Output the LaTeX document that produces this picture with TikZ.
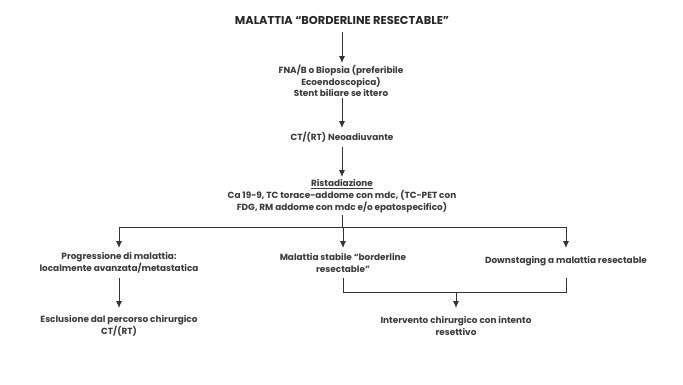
\documentclass[tikz,border=0pt]{standalone}
\usepackage{fontspec}
\setmainfont{Poppins}
\usetikzlibrary{arrows.meta}
\definecolor{txt}{HTML}{3A3A3A}
\tikzset{
  lbl/.style={align=center, font=\fontsize{8.9}{11.8}\selectfont\bfseries, text=txt, inner sep=0pt},
  ttl/.style={font=\fontsize{11.4}{13}\selectfont\bfseries, text=black!85, inner sep=0pt},
  ln/.style={draw=black!80, line width=0.9pt},
  arr/.style={ln, -{Latex[length=7pt,width=6pt]}}
}
\begin{document}
\begin{tikzpicture}[x=1pt,y=-1pt]
\useasboundingbox[fill=white] (0,0) rectangle (683,384);
\node[ttl] (title) at (342,20) {MALATTIA “BORDERLINE RESECTABLE”};
\node[lbl] (fna) at (341,81) {FNA/B o Biopsia (preferibile\\Ecoendoscopica)\\Stent biliare se ittero};
\node[lbl] (ct) at (342,137) {CT/(RT) Neoadiuvante};
\node[lbl] (rist) at (342,196) {\underline{Ristadiazione}\\Ca 19-9, TC torace-addome con mdc, (TC-PET con\\FDG, RM addome con mdc e/o epatospecifico)};
\node[lbl] (prog) at (119,263) {Progressione di malattia:\\localmente avanzata/metastatica};
\node[lbl] (stab) at (343,263) {Malattia stabile “borderline\\resectable”};
\node[lbl] (down) at (566,261) {Downstaging a malattia resectable};
\node[lbl] (escl) at (119,326) {Esclusione dal percorso chirurgico\\CT/(RT)};
\node[lbl] (interv) at (456,326) {Intervento chirurgico con intento\\resettivo};
\coordinate (s1) at (342,32);
\coordinate (e1) at (342,63);
\coordinate (s2) at (342,98);
\coordinate (e2) at (342,128);
\coordinate (s3) at (342,147);
\coordinate (e3) at (342,177);
\coordinate (s4) at (342,215);
\coordinate (hb) at (342,227);
\coordinate (hl) at (119,227);
\coordinate (hm) at (343,227);
\coordinate (hr) at (566,227);
\coordinate (al) at (119,248);
\coordinate (am) at (343,248);
\coordinate (ar) at (566,248);
\coordinate (pl) at (119,278);
\coordinate (pe) at (119,308);
\coordinate (bm) at (343,278);
\coordinate (br) at (566,278);
\coordinate (jm) at (343,292);
\coordinate (jr) at (566,292);
\coordinate (jc) at (456,292);
\coordinate (je) at (456,308);
\draw[arr] (s1) -- (e1);
\draw[arr] (s2) -- (e2);
\draw[arr] (s3) -- (e3);
\draw[ln] (s4) -- (hb);
\draw[ln] (hl) -- (hr);
\draw[arr] (hl) -- (al);
\draw[arr] (hm) -- (am);
\draw[arr] (hr) -- (ar);
\draw[arr] (pl) -- (pe);
\draw[ln] (bm) -- (jm) -- (jr) -- (br);
\draw[arr] (jc) -- (je);
\end{tikzpicture}
\end{document}
